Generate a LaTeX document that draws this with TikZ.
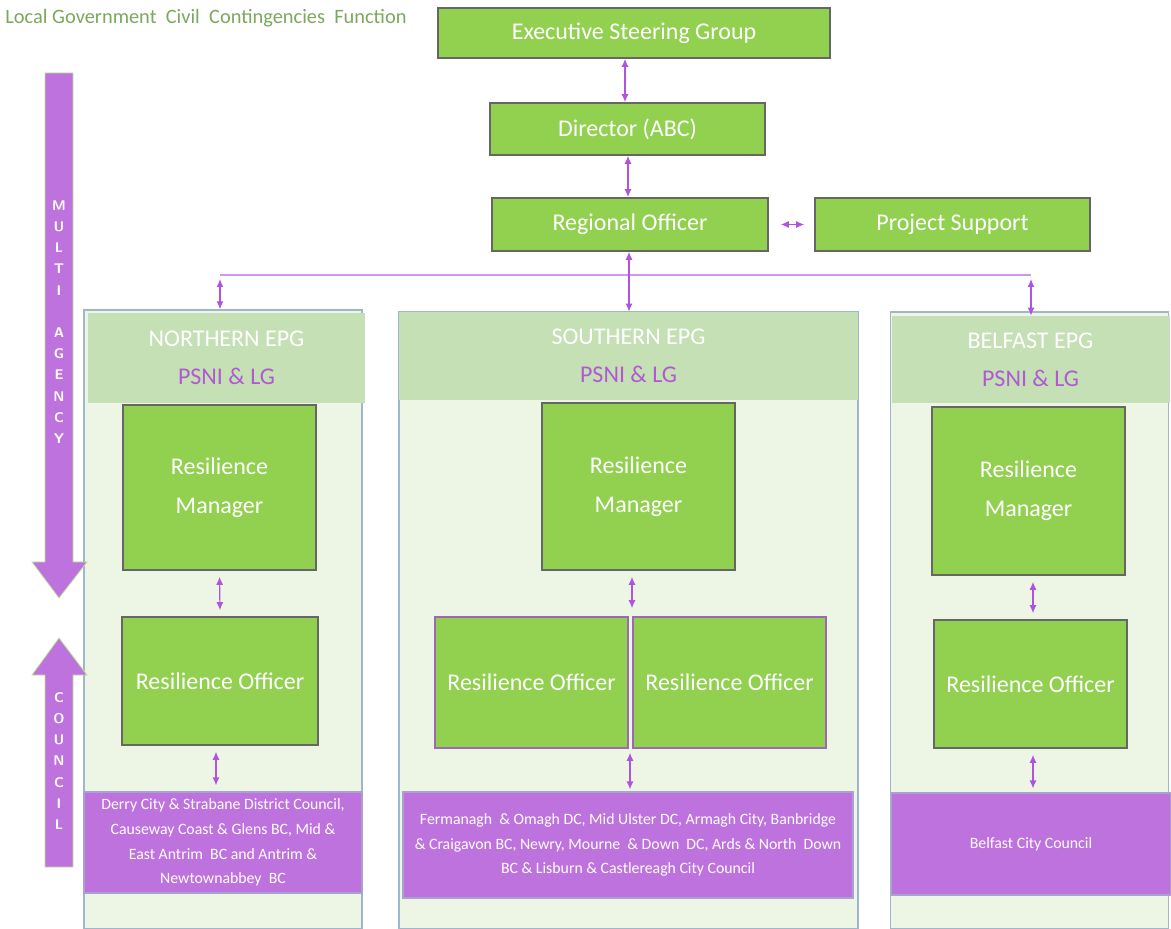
\documentclass[tikz,border=0pt]{standalone}
\usepackage{fontspec}
\setmainfont{Carlito}
\usetikzlibrary{arrows.meta}

\definecolor{boxgreen}{RGB}{146,208,80}
\definecolor{headgreen}{RGB}{197,224,180}
\definecolor{panelgreen}{RGB}{237,245,228}
\definecolor{panelblue}{RGB}{160,182,204}
\definecolor{councilpurple}{RGB}{190,114,222}
\definecolor{linkpurple}{RGB}{176,84,224}
\definecolor{psnipurple}{RGB}{176,90,210}
\definecolor{titlegreen}{RGB}{122,168,92}

\tikzset{
  box/.style={draw=gray!80!black, line width=0.8pt, fill=boxgreen, text=white,
    font=\fontsize{12}{19.5}\selectfont, align=center, inner sep=0pt},
  panel/.style={draw=panelblue, line width=0.7pt, fill=panelgreen, inner sep=0pt},
  header/.style={fill=headgreen, draw=none, align=center, inner sep=0pt,
    font=\fontsize{12}{19}\selectfont},
  council/.style={draw=panelblue!70!councilpurple, line width=0.6pt, fill=councilpurple,
    text=white, align=center, inner sep=0pt, font=\fontsize{7.9}{12.3}\selectfont},
  link/.style={{Latex[length=4pt,width=3.5pt]}-{Latex[length=4pt,width=3.5pt]},
    draw=linkpurple, line width=0.6pt},
  bigarrow/.style={fill=councilpurple, draw=boxgreen!60!white, line width=0.4pt},
  arrowtext/.style={text=white, align=center, font=\fontsize{7}{10.6}\selectfont\bfseries\sffamily}
}

\begin{document}
\begin{tikzpicture}[x=0.5pt, y=-0.5pt]
  \useasboundingbox (0,0) rectangle (1171,929);

  % Titolo
  \node[anchor=west, text=titlegreen, font=\fontsize{10.2}{12}\selectfont, inner sep=0pt]
    (title) at (5,18) {Local Government\ \ Civil\ \ Contingencies\ \ Function};

  % Livelli superiori
  \node[box, minimum width=196pt, minimum height=25pt] (esg) at (634,33) {Executive Steering Group};
  \node[box, minimum width=137.5pt, minimum height=26pt] (dir) at (627.5,129) {Director (ABC)};
  \node[box, minimum width=138pt, minimum height=26.5pt] (reg) at (630,224.5) {Regional Officer};
  \node[box, minimum width=137.5pt, minimum height=26.5pt] (proj) at (952.5,224.5) {Project Support};

  % Pannelli EPG
  \node[panel, minimum width=139pt, minimum height=309.5pt] (npan) at (223,619.5) {};
  \node[panel, minimum width=229.5pt, minimum height=308.5pt] (span) at (628.5,620.5) {};
  \node[panel, minimum width=139pt, minimum height=308.5pt] (bpan) at (1029.5,620.5) {};

  \node[header, minimum width=138.5pt, minimum height=45pt] (nhead) at (226.5,358)
    {\textcolor{white}{NORTHERN EPG}\\\textcolor{psnipurple}{PSNI \& LG}};
  \node[header, minimum width=229.5pt, minimum height=44pt] (shead) at (628.5,356)
    {\textcolor{white}{SOUTHERN EPG}\\\textcolor{psnipurple}{PSNI \& LG}};
  \node[header, minimum width=139pt, minimum height=43.5pt] (bhead) at (1030.5,359.5)
    {\textcolor{white}{BELFAST EPG}\\\textcolor{psnipurple}{PSNI \& LG}};

  % Northern
  \node[box, minimum width=96.5pt, minimum height=82.5pt] (nman) at (219.5,487.5) {Resilience\\Manager};
  \node[box, minimum width=98pt, minimum height=64pt] (noff) at (220,681) {Resilience Officer};
  \node[council, minimum width=139pt, minimum height=50.5pt] (ncouncil) at (223,842.5)
    {Derry City \& Strabane District Council,\\Causeway Coast \& Glens BC, Mid \&\\East Antrim\ \ BC and Antrim \&\\Newtownabbey\ \ BC};

  % Southern
  \node[box, minimum width=96.5pt, minimum height=83.5pt] (sman) at (638.5,486.5) {Resilience\\Manager};
  \node[box, draw=psnipurple!60!gray, minimum width=96.5pt, minimum height=65.5pt] (soffa) at (531.5,682.5) {Resilience Officer};
  \node[box, draw=psnipurple!60!gray, minimum width=96.5pt, minimum height=65.5pt] (soffb) at (729.5,682.5) {Resilience Officer};
  \node[council, minimum width=225pt, minimum height=53pt] (scouncil) at (628,845)
    {Fermanagh\ \ \& Omagh DC, Mid Ulster DC, Armagh City, Banbridge\\\& Craigavon BC, Newry, Mourne\ \ \& Down\ \ DC, Ards \& North\ \ Down\\BC \& Lisburn \& Castlereagh City Council};

  % Belfast
  \node[box, minimum width=96.5pt, minimum height=84pt] (bman) at (1028.5,491) {Resilience\\Manager};
  \node[box, minimum width=96.5pt, minimum height=64pt] (boff) at (1030.5,684) {Resilience Officer};
  \node[council, minimum width=139.5pt, minimum height=51pt] (bcouncil) at (1031,844) {Belfast City Council};

  % Collegamenti
  \draw[link] (esg.south -| 625,0) -- (dir.north -| 625,0);
  \draw[link] (dir.south -| 628,0) -- (reg.north -| 628,0);
  \draw[link] ([xshift=6pt]reg.east) -- ([xshift=-5pt]proj.west);

  \coordinate (busl) at (220,275);
  \coordinate (busr) at (1031,275);
  \draw[linkpurple!60!white, line width=1.2pt] (busl) -- (busr);
  \draw[link] (reg.south -| 629,0) -- (shead.north -| 629,0);
  \draw[link] ([yshift=-2pt]busl) -- (busl |- npan.north);
  \draw[link] ([yshift=-2pt]busr) -- (busr |- bhead.north);

  \draw[link] ([yshift=-3pt]nman.south) -- ([yshift=3pt]noff.south |- noff.north);
  \draw[link] ([yshift=-3pt]noff.south -| 216,0) -- ([yshift=3pt]ncouncil.north -| 216,0);
  \draw[link] ([yshift=-3pt]sman.south -| 632,0) -- ([yshift=4pt]soffb.north -| 632,0);
  \draw[link] ([yshift=-2pt]soffb.south -| 630,0) -- ([yshift=1pt]scouncil.north -| 630,0);
  \draw[link] ([yshift=-3pt]bman.south -| 1033,0) -- ([yshift=3pt]boff.north -| 1033,0);
  \draw[link] ([yshift=-3pt]boff.south -| 1033,0) -- ([yshift=2pt]bcouncil.north -| 1033,0);

  % Frecce laterali
  \draw[bigarrow] (45,73) -- (73,73) -- (73,562) -- (87,562) -- (59,598) -- (32,562) -- (45,562) -- cycle;
  \draw[bigarrow] (45,867) -- (73,867) -- (73,675) -- (87,675) -- (59,638) -- (32,675) -- (45,675) -- cycle;
  \node[arrowtext] (multi) at (59,322) {M\\U\\L\\T\\I\\[10.6pt]A\\G\\E\\N\\C\\Y};
  \node[arrowtext] (coun) at (59,761) {C\\O\\U\\N\\C\\I\\L};
\end{tikzpicture}
\end{document}
